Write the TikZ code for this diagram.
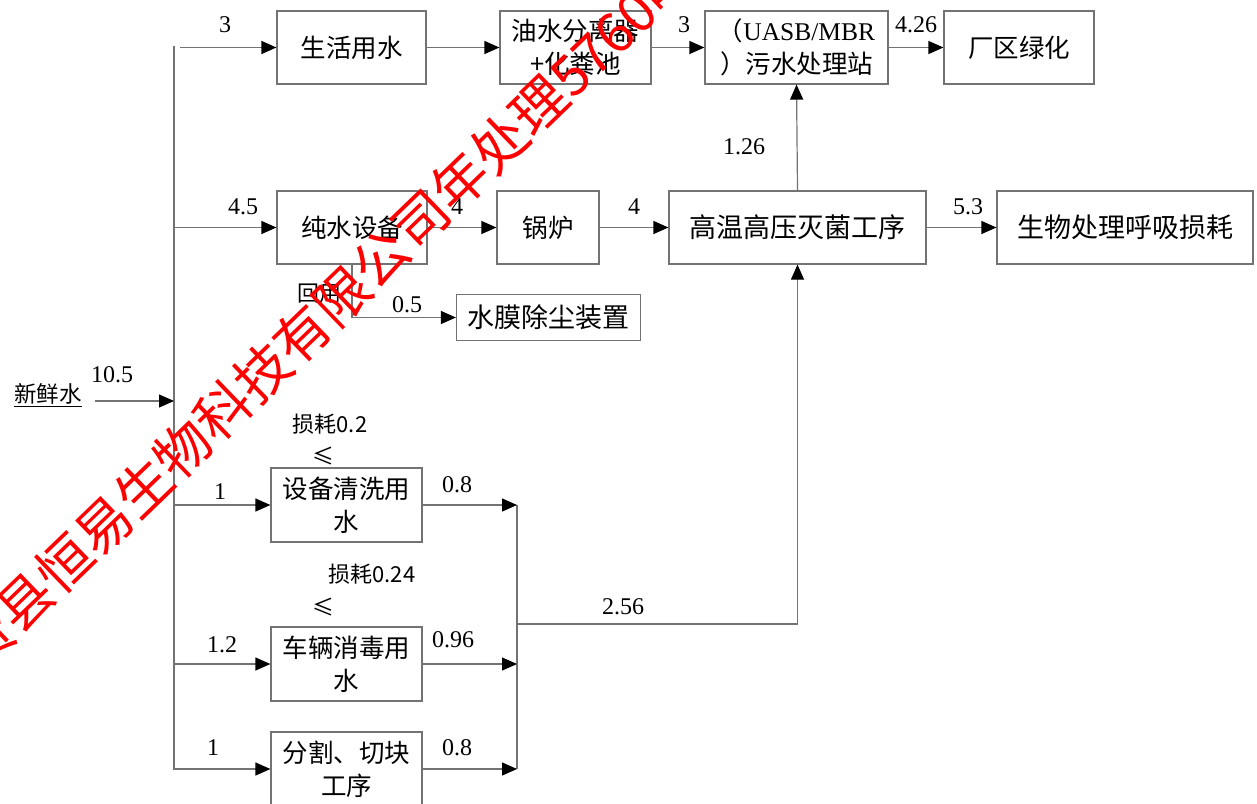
\documentclass[tikz,border=0pt]{standalone}
\usepackage{fontspec}
\setmainfont{Liberation Serif}
\newfontfamily\cjk{Noto Sans CJK SC}
\usetikzlibrary{arrows.meta}
\definecolor{linec}{RGB}{115,115,115}
\begin{document}
\begin{tikzpicture}[x=1pt,y=1pt,
  box/.style={draw=linec, line width=1.2pt, font=\cjk\fontsize{25.5}{33}\selectfont, align=center, inner sep=0pt, anchor=center},
  bigbox/.style={box, font=\cjk\fontsize{27}{33}\selectfont},
  flow/.style={draw=linec, line width=1.2pt, -{Triangle[length=15pt,width=13pt,color=black]}},
  plain/.style={draw=linec, line width=1.2pt},
  lbl/.style={font=\fontsize{24}{24}\selectfont, inner sep=0pt},
  clbl/.style={font=\cjk\fontsize{22}{22}\selectfont, inner sep=0pt}]
\useasboundingbox (0,0) rectangle (1257,-803);
% boxes
\node[box, minimum width=149, minimum height=73] (shyy) at (351.5,-47.5) {生活用水};
\node[box, minimum width=151, minimum height=73] (ysf) at (575.5,-47.5) {油水分离器\\+化粪池};
\node[box, minimum width=183, minimum height=73] (uasb) at (796.5,-47.5) {{\cjk （}\fontspec{Liberation Serif}UASB/MBR\\）污水处理站};
\node[box, minimum width=150, minimum height=73] (cqlh) at (1019,-47.5) {厂区绿化};
\node[box, minimum width=150, minimum height=73] (csb) at (352,-227.5) {纯水设备};
\node[box, minimum width=102, minimum height=73] (gl) at (548,-227.5) {锅炉};
\node[bigbox, minimum width=257, minimum height=73] (gw) at (797.5,-227.5) {高温高压灭菌工序};
\node[bigbox, minimum width=256, minimum height=73] (sw) at (1125,-227.5) {生物处理呼吸损耗};
\node[bigbox, minimum width=184, minimum height=46] (smc) at (548.5,-317.5) {水膜除尘装置};
\node[box, minimum width=151, minimum height=74] (sbqx) at (346.5,-505) {设备清洗用\\水};
\node[box, minimum width=151, minimum height=74] (clxd) at (346.5,-664) {车辆消毒用\\水};
\node[box, minimum width=151, minimum height=74] (fg) at (346.5,-769) {分割、切块\\工序};
% source
\node[font=\cjk\fontsize{22.5}{22}\selectfont, inner sep=0pt] (xxs) at (48,-395) {\underline{新鲜水}};
% trunk coordinates
\coordinate (ttop) at (174,-46);
\coordinate (tbot) at (174,-770);
\coordinate (tin) at (174,-401);
\coordinate (src) at (95,-401);
\draw[plain] (ttop) -- (tbot);
\draw[flow] (src) -- (tin);
% branches
\coordinate (b1) at (180,-47.5);
\draw[flow] (b1) -- (shyy.west);
\draw[flow] (ttop |- csb.west) -- (csb.west);
\draw[flow] (ttop |- sbqx.west) -- (sbqx.west);
\draw[flow] (ttop |- clxd.west) -- (clxd.west);
\draw[flow] (ttop |- fg.west) -- (fg.west);
% top row
\draw[flow] (shyy.east) -- (ysf.west);
\draw[flow] (ysf.east) -- (uasb.west);
\draw[flow] (uasb.east) -- (cqlh.west);
% middle row
\draw[flow] (csb.east) -- (gl.west);
\draw[flow] (gl.east) -- (gw.west);
\draw[flow] (gw.east) -- (sw.west);
\draw[flow] (gw.north) -- (uasb.south);
% reuse
\coordinate (ru) at (352,-264);
\coordinate (rc) at (352,-317.5);
\draw[flow] (ru) -- (rc) -- (smc.west);
% collector
\coordinate (ctop) at (517,-505);
\coordinate (cbot) at (517,-769);
\coordinate (cmid) at (517,-624);
\coordinate (cturn) at (797.5,-624);
\draw[plain] (ctop) -- (cbot);
\draw[flow] (sbqx.east) -- (ctop);
\draw[flow] (clxd.east) -- (clxd.east -| ctop);
\draw[flow] (fg.east) -- (cbot);
\draw[flow] (cmid) -- (cturn) -- (gw.south);
% labels
\node[lbl] (l1) at (225,-25) {3};
\node[lbl] (l2) at (684,-25) {3};
\node[lbl] (l3) at (916,-25) {4.26};
\node[lbl] (l4) at (243,-207) {4.5};
\node[lbl] (l5) at (457,-207) {4};
\node[lbl] (l6) at (634,-207) {4};
\node[lbl] (l7) at (968,-207) {5.3};
\node[lbl] (l8) at (744,-147) {1.26};
\node[lbl] (l9) at (112,-375) {10.5};
\node[lbl] (l10) at (407,-305) {0.5};
\node[lbl] (l11) at (220,-492) {1};
\node[lbl] (l12) at (457,-485) {0.8};
\node[lbl] (l13) at (222,-645) {1.2};
\node[lbl] (l14) at (453,-640) {0.96};
\node[lbl] (l15) at (213,-748) {1};
\node[lbl] (l16) at (457,-748) {0.8};
\node[lbl] (l17) at (623,-607) {2.56};
\node[clbl] (hy) at (319,-294) {回用};
\node[clbl] (sh1) at (330,-424) {损耗0.2};
\node[clbl] (le1) at (323,-456) {≤};
\node[clbl] (sh2) at (372,-574) {损耗0.24};
\node[clbl] (le2) at (323,-607) {≤};
% watermark
\node[rotate=44, text=red, font=\cjk\fontsize{55}{55}\selectfont, inner sep=0pt] (wm) at (326,-311) {贤县恒易生物科技有限公司年处理5760吨};
\end{tikzpicture}
\end{document}
